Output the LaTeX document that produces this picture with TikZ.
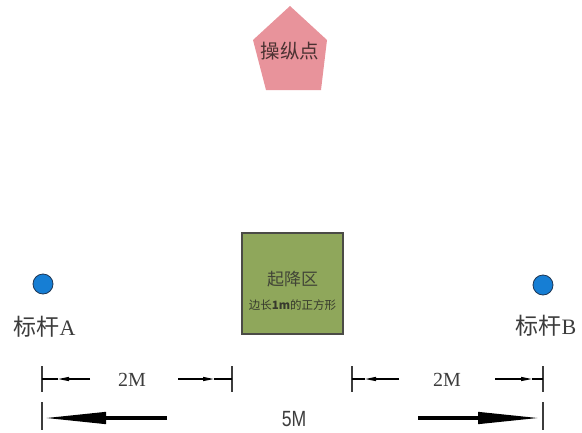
\documentclass[tikz,border=0pt]{standalone}
\usepackage{fontspec}
\newfontfamily\cjk{Noto Sans CJK SC}
\newfontfamily\arialf{Liberation Sans}
\newfontfamily\timesf{Liberation Serif}
\usetikzlibrary{arrows.meta}
\definecolor{pinkfill}{RGB}{232,147,155}
\definecolor{greenfill}{RGB}{143,167,91}
\definecolor{bluefill}{RGB}{22,126,212}
\definecolor{txtdark}{RGB}{60,60,60}
\tikzset{
  pole/.style={circle,fill=bluefill,draw={rgb,255:red,30;green,55;blue,85},line width=0.8pt,minimum size=20pt,inner sep=0pt},
  polelabel/.style={font=\cjk\fontsize{23}{23}\selectfont,text=txtdark,inner sep=0pt},
  dimtext/.style={font=\timesf\fontsize{20}{20}\selectfont,text=txtdark,inner sep=0pt},
  tickline/.style={line width=1.1pt,draw={rgb,255:red,60;green,60;blue,60}},
  thinarrow/.style={line width=1.1pt,-{Triangle[length=11pt,width=4pt]}},
  thinline/.style={line width=1.1pt},
  thickarrow/.style={line width=4.5pt,-{Triangle[length=64pt,width=11pt]}},
}
\begin{document}
\begin{tikzpicture}[x=1pt,y=-1pt]
\useasboundingbox (0,0) rectangle (582,432);
% pentagon
\coordinate (p1) at (290,6);
\coordinate (p2) at (327,40);
\coordinate (p3) at (321,90);
\coordinate (p4) at (266,90);
\coordinate (p5) at (253,40);
\fill[pinkfill] (p1) -- (p2) -- (p3) -- (p4) -- (p5) -- cycle;
\node[font=\cjk\fontsize{19.5}{19.5}\selectfont,text={rgb,255:red,75;green,50;blue,50},inner sep=0pt] (ctrl) at (290,51) {操纵点};
% square
\draw[fill=greenfill,draw={rgb,255:red,75;green,75;blue,70},line width=1.2pt] (242,233) rectangle (343,334);
\node[font=\cjk\fontsize{17}{17}\selectfont,text={rgb,255:red,65;green,68;blue,55},inner sep=0pt] (zone) at (292.5,279) {起降区};
\node[font=\cjk\fontsize{11.5}{11.5}\selectfont,text={rgb,255:red,55;green,58;blue,45},inner sep=0pt] (zonesub) at (292.5,305) {边长\textbf{1m}的正方形};
% poles
\node[pole] (poleA) at (43,284) {};
\node[pole] (poleB) at (543,285) {};
\node[polelabel] (labA) at (44.5,327) {标杆{\timesf\fontsize{22}{22}\selectfont A}};
\node[polelabel] (labB) at (546,326) {标杆{\timesf\fontsize{22}{22}\selectfont B}};
% ticks row 1
\coordinate (t1a) at (42,366); \coordinate (t1b) at (42,392);
\coordinate (t2a) at (232,366); \coordinate (t2b) at (232,392);
\coordinate (t3a) at (352,366); \coordinate (t3b) at (352,392);
\coordinate (t4a) at (543,366); \coordinate (t4b) at (543,392);
\draw[tickline] (t1a) -- (t1b);
\draw[tickline] (t2a) -- (t2b);
\draw[tickline] (t3a) -- (t3b);
\draw[tickline] (t4a) -- (t4b);
% row 1 left dimension
\coordinate (a1s) at (90,379); \coordinate (a1t) at (58,379); \coordinate (a1e) at (42,379);
\draw[thinarrow] (a1s) -- (a1t);
\draw[thinline] (a1t) -- (a1e);
\coordinate (a2s) at (178,379); \coordinate (a2t) at (214,379); \coordinate (a2e) at (232,379);
\draw[thinarrow] (a2s) -- (a2t);
\draw[thinline] (a2t) -- (a2e);
\node[dimtext] (d1) at (132,380) {2M};
% row 1 right dimension
\coordinate (b1s) at (399,379); \coordinate (b1t) at (365,379); \coordinate (b1e) at (352,379);
\draw[thinarrow] (b1s) -- (b1t);
\draw[thinline] (b1t) -- (b1e);
\coordinate (b2s) at (495,379); \coordinate (b2t) at (532,379); \coordinate (b2e) at (543,379);
\draw[thinarrow] (b2s) -- (b2t);
\draw[thinline] (b2t) -- (b2e);
\node[dimtext] (d2) at (447,380) {2M};
% row 2
\coordinate (t5a) at (42,402); \coordinate (t5b) at (42,430);
\coordinate (t6a) at (543,402); \coordinate (t6b) at (543,430);
\draw[tickline] (t5a) -- (t5b);
\draw[tickline] (t6a) -- (t6b);
\coordinate (c1s) at (167,418); \coordinate (c1e) at (42,418);
\coordinate (c2s) at (418,418); \coordinate (c2e) at (542,418);
\draw[thickarrow] (c1s) -- (c1e);
\draw[thickarrow] (c2s) -- (c2e);
\node[font=\arialf\fontsize{22}{22}\selectfont,text=txtdark,inner sep=0pt] (d3) at (294,419) {\scalebox{0.8}[1]{5M}};
\end{tikzpicture}
\end{document}
